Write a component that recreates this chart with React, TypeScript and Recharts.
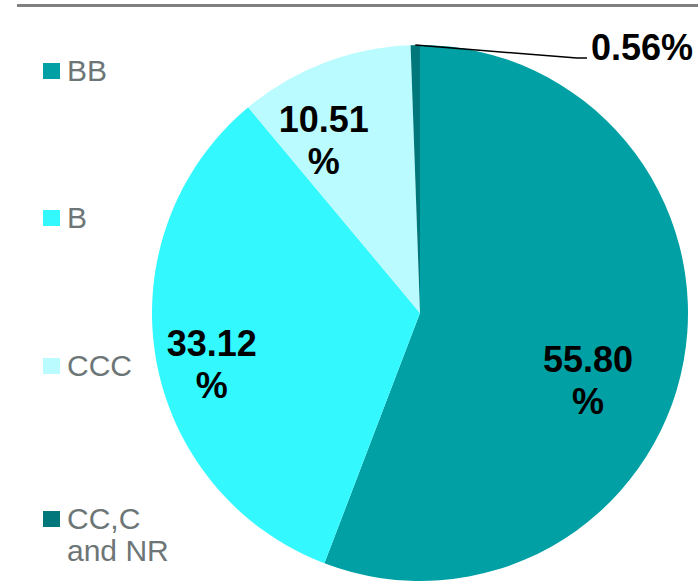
import { PieChart, Pie, Cell } from 'recharts'

const categories = ['BB', 'B', 'CCC', 'CC,C and NR']
const shares = [55.8, 33.12, 10.51, 0.56]
const colors = ['#00A0A4', '#33F9FF', '#BAFBFF', '#00777B']

const data = categories.map((name, i) => ({ name, value: shares[i] }))

const FONT = '"Liberation Sans", Arial, sans-serif'
const RAD = Math.PI / 180

// where the in-slice labels sit: angle (deg) and distance as a share of radius
const LABEL_SPOT = [
  { angle: -21.7, r: 0.675 },
  { angle: 193.7, r: 0.8 },
  { angle: 119, r: 0.74 },
]
// legend rows, vertical centre of first text line
const LEGEND_Y = [71, 218, 366, 519]

const renderLabel = (props: any) => {
  const { cx, cy, outerRadius, midAngle, index, value } = props
  const text = Number(value).toFixed(2)
  if (index < LABEL_SPOT.length) {
    const spot = LABEL_SPOT[index]
    const x = cx + outerRadius * spot.r * Math.cos(spot.angle * RAD)
    const y = cy - outerRadius * spot.r * Math.sin(spot.angle * RAD)
    return (
      <text x={x} y={y} textAnchor="middle" fill="#000" fontSize={36} fontWeight="bold" fontFamily={FONT}>
        <tspan x={x} y={y - 8}>{text}</tspan>
        <tspan x={x} dy={42}>%</tspan>
      </text>
    )
  }
  // tiny slice: leader line out to the upper right
  const sx = cx + outerRadius * Math.cos(midAngle * RAD)
  const sy = cy - outerRadius * Math.sin(midAngle * RAD)
  const ex = cx + 157
  const ey = cy - 255
  return (
    <g>
      <polyline points={`${sx},${sy} ${ex},${ey} ${ex + 10},${ey}`} fill="none" stroke="#000" strokeWidth={1.5} />
      <text x={ex + 14} y={ey + 2} fill="#000" fontSize={36} fontWeight="bold" fontFamily={FONT}>
        {text}%
      </text>
    </g>
  )
}

export default function App() {
  return (
    <div style={{ position: 'absolute', left: 0, top: 0, width: 698, height: 581, background: '#fff', overflow: 'hidden' }}>
      <div style={{ position: 'absolute', left: 17, right: 0, top: 4, height: 3, background: '#808080' }} />
      <PieChart width={698} height={581} margin={{ top: 0, right: 0, bottom: 0, left: 0 }}>
        <Pie
          data={data}
          dataKey="value"
          nameKey="name"
          cx={420}
          cy={313}
          outerRadius={268}
          startAngle={90}
          endAngle={-270}
          stroke="none"
          labelLine={false}
          label={renderLabel}
          isAnimationActive={false}
        >
          {data.map((d, i) => (
            <Cell key={d.name} fill={colors[i]} />
          ))}
        </Pie>
      </PieChart>
      {categories.map((c, i) => (
        <div key={c}>
          <div
            style={{
              position: 'absolute',
              left: 43,
              top: LEGEND_Y[i] - 8,
              width: 17,
              height: 16,
              background: colors[i],
            }}
          />
          <div
            style={{
              position: 'absolute',
              left: 67,
              top: LEGEND_Y[i] - 15.6,
              width: 112,
              fontFamily: FONT,
              fontSize: 30,
              lineHeight: '32px',
              color: '#6D7676',
            }}
          >
            {c}
          </div>
        </div>
      ))}
    </div>
  )
}
